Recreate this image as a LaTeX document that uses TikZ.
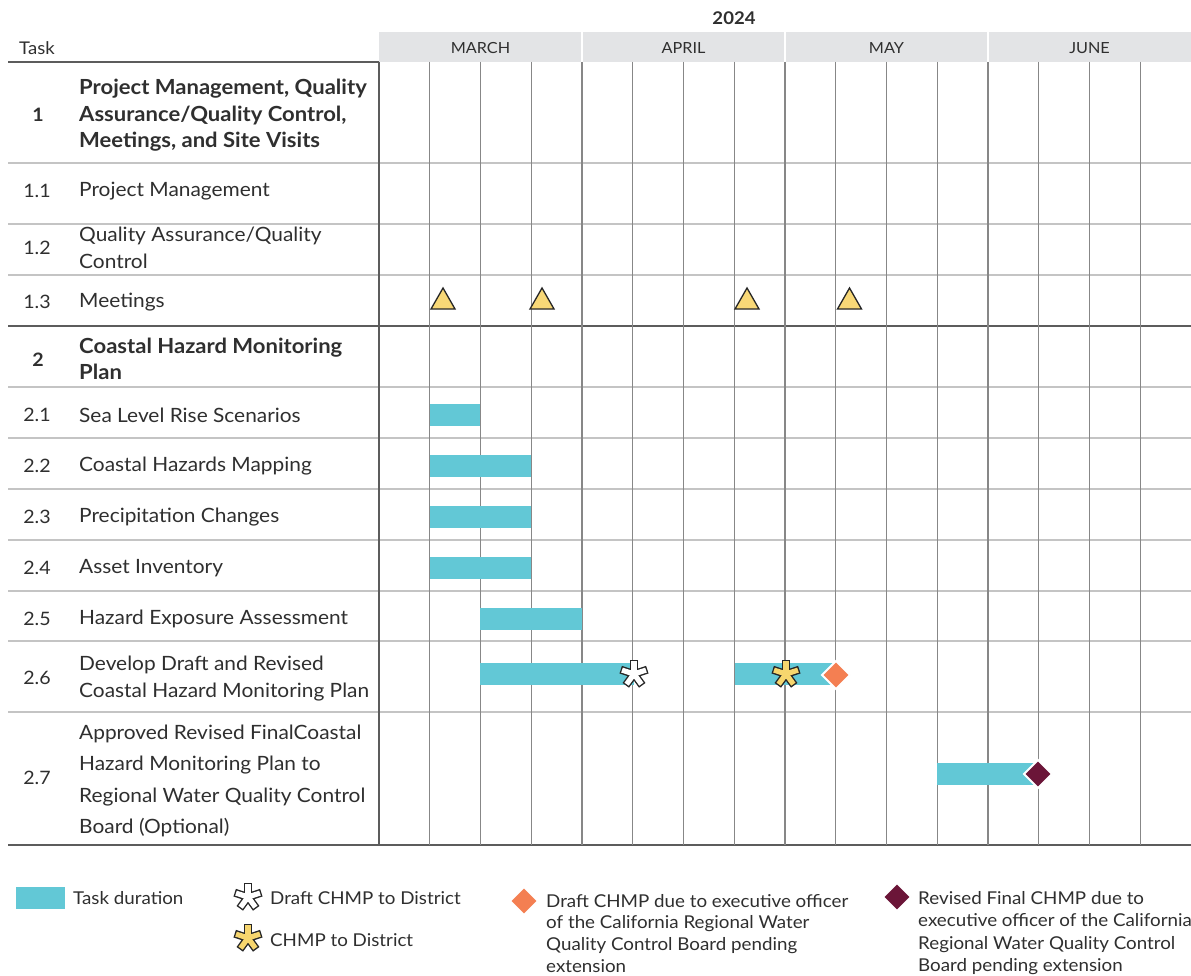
\documentclass[tikz,border=0pt]{standalone}
\usepackage{fontspec}
\setmainfont{Lato}[FakeStretch=1.06]
\usetikzlibrary{shapes.geometric}

\definecolor{barcol}{HTML}{62C8D6}
\definecolor{tricol}{HTML}{F8D877}
\definecolor{diamA}{HTML}{F47F52}
\definecolor{diamB}{HTML}{6B1538}
\definecolor{txt}{HTML}{2F2F2F}
\definecolor{bandcol}{HTML}{E3E4E6}
\definecolor{weekcol}{HTML}{878787}
\definecolor{rowcol}{HTML}{C4C4C4}
\definecolor{darkrule}{HTML}{5C5C5C}
\definecolor{starY}{HTML}{F7D66E}

\tikzset{
  num/.style={text=txt, font=\fontsize{18.5}{26}\selectfont, anchor=center, inner sep=0pt},
  numbold/.style={num, font=\fontsize{18.5}{26}\selectfont\bfseries},
  lab/.style={text=txt, font=\fontsize{19.7}{26.5}\selectfont, anchor=west, align=left, inner sep=0pt},
  labbold/.style={lab, font=\fontsize{20.8}{26.5}\selectfont\bfseries},
  month/.style={text=txt, font=\fontsize{15.3}{16}\selectfont, inner sep=0pt},
  legtext/.style={text=txt, font=\fontsize{17.7}{22.5}\selectfont, anchor=north west, align=left, inner sep=0pt},
  weekline/.style={draw=weekcol, line width=1.1pt},
  rowline/.style={draw=rowcol, line width=1.8pt},
  heavyline/.style={draw=darkrule, line width=1.8pt},
  meeting/.style={fill=tricol, draw=black!85, line width=1.3pt, line join=miter},
  % five-armed asterisk marker with square arm ends; #1 = fill colour
  asterisk/.pic={
    \foreach \a in {90,18,162,-54,234}
      \draw[black!85, line width=8pt, line cap=butt] (0,0) -- (\a:14pt);
    \fill[black!85] (0,0) circle (5pt);
    \foreach \a in {90,18,162,-54,234}
      \draw[#1, line width=5.2pt, line cap=butt] (0,0) -- (\a:12.6pt);
  },
  milestone/.style={draw=white, line width=1.8pt, fill=#1, line join=miter}
}

\newcommand\taskbar[3]{\fill[barcol] (#1,{#3-11}) rectangle (#2,{#3+11});}
\newcommand\milediamond[4]{\path[milestone=#4] (#1,{#2-#3}) -- ({#1+#3},#2) -- (#1,{#2+#3}) -- ({#1-#3},#2) -- cycle;}

\begin{document}
\begin{tikzpicture}[x=1pt, y=-1pt]
\useasboundingbox (0,0) rectangle (1191,976);
\fill[white] (0,0) rectangle (1191,976);

% ---- header ----
\node[text=txt, font=\fontsize{17.5}{18}\selectfont\bfseries, inner sep=0pt] (year) at (734,18) {2024};
\fill[bandcol] (379,32) rectangle (1191,62);
\foreach \x in {582,785,988} \draw[white, line width=2pt] (\x,32) -- (\x,62);
\node[month] (mar) at (480.5,48) {MARCH};
\node[month] (apr) at (683.5,48) {APRIL};
\node[month] (may) at (886.5,48) {MAY};
\node[month] (jun) at (1089.5,48) {JUNE};
\node[text=txt, font=\fontsize{17.5}{18}\selectfont, anchor=west, inner sep=0pt] (task) at (19,48) {Task};

% ---- horizontal row rules ----
\foreach \y in {163,224,275,387,438,489,540,591,641,712}
  \draw[rowline] (8,\y) -- (1191,\y);
\draw[heavyline] (8,62) -- (379,62);
\draw[heavyline] (8,326) -- (1191,326);
\draw[heavyline] (8,845) -- (1191,845);

% ---- week grid ----
\foreach \k in {1,...,15}
  \draw[weekline] ({379+50.75*\k},62) -- ({379+50.75*\k},845);
\draw[draw=darkrule, line width=1.5pt] (379,62) -- (379,845);

% ---- task column ----
\node[numbold] (n1) at (38,115) {1};
\node[labbold] (t1) at (79,115.5) {Project Management, Quality\\Assurance/Quality Control,\\Meetings, and Site Visits};
\node[num] (n11) at (37,191) {1.1};
\node[lab] (t11) at (79,191) {Project Management};
\node[num] (n12) at (37,248) {1.2};
\node[lab] (t12) at (79,248) {Quality Assurance/Quality\\Control};
\node[num] (n13) at (37,302) {1.3};
\node[lab] (t13) at (79,302) {Meetings};
\node[numbold] (n2) at (38,360) {2};
\node[labbold] (t2) at (79,359) {Coastal Hazard Monitoring\\Plan};
\node[num] (n21) at (37,415) {2.1};
\node[lab] (t21) at (79,415) {Sea Level Rise Scenarios};
\node[num] (n22) at (37,466) {2.2};
\node[lab] (t22) at (79,466) {Coastal Hazards Mapping};
\node[num] (n23) at (37,517) {2.3};
\node[lab] (t23) at (79,517) {Precipitation Changes};
\node[num] (n24) at (37,568) {2.4};
\node[lab] (t24) at (79,568) {Asset Inventory};
\node[num] (n25) at (37,619) {2.5};
\node[lab] (t25) at (79,619) {Hazard Exposure Assessment};
\node[num] (n26) at (37,678) {2.6};
\node[lab] (t26) at (79,678.5) {Develop Draft and Revised\\Coastal Hazard Monitoring Plan};
\node[num] (n27) at (37,778) {2.7};
\node[lab, font=\fontsize{19.7}{31.3}\selectfont] (t27) at (79,781) {Approved Revised FinalCoastal\\Hazard Monitoring Plan to\\Regional Water Quality Control\\Board (Optional)};

% ---- meetings ----
\foreach \x in {443,542,747,849.5}
  \draw[meeting] ({\x-12},309) -- (\x,288) -- ({\x+12},309) -- cycle;

% ---- task bars ----
\taskbar{430}{480}{415}
\taskbar{430}{531}{466}
\taskbar{430}{531}{517}
\taskbar{430}{531}{568}
\taskbar{480}{582}{619}
\taskbar{480}{634}{674}
\taskbar{735}{834}{674}
\taskbar{937}{1036}{774}

% ---- milestones ----
\pic at (634,674) {asterisk=white};
\pic at (786,674) {asterisk=starY};
\milediamond{836}{675}{14}{diamA}
\milediamond{1038}{774}{14}{diamB}

% ---- legend ----
\fill[barcol] (16,887) rectangle (65,909);
\node[legtext, anchor=west] (lg1) at (73,898) {Task duration};
\pic at (248,897) {asterisk=white};
\node[legtext, anchor=west] (lg2) at (270,898) {Draft CHMP to District};
\pic at (248,938) {asterisk=starY};
\node[legtext, anchor=west] (lg3) at (270,940) {CHMP to District};
\milediamond{524}{901}{14}{diamA}
\node[legtext, font=\fontsize{17.7}{21.6}\selectfont] (lg4) at (546,894) {Draft CHMP due to executive officer\\of the California Regional Water\\Quality Control Board pending\\extension};
\milediamond{897}{897}{14}{diamB}
\node[legtext] (lg5) at (918,891) {Revised Final CHMP due to\\executive officer of the California\\Regional Water Quality Control\\Board pending extension};
\end{tikzpicture}
\end{document}
